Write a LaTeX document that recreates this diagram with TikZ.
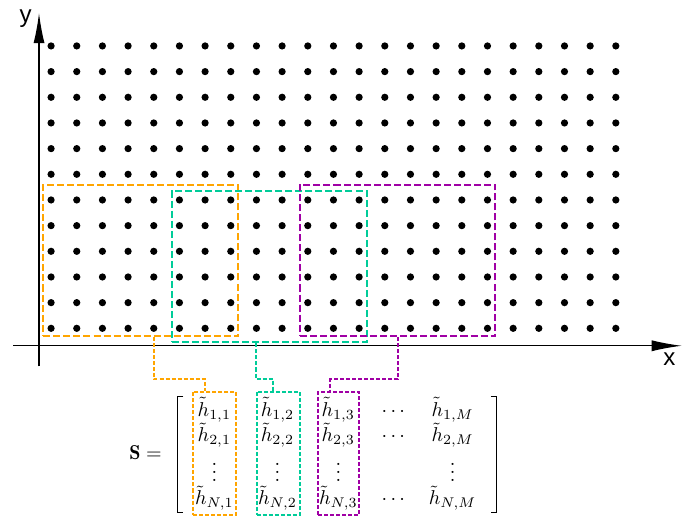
\documentclass[tikz,border=0pt]{standalone}
\usepackage{amsmath,amssymb}
\usepackage{xcolor}
\usepackage{fontspec}
\usetikzlibrary{arrows.meta,fit}
\newfontfamily\axisfont{Liberation Sans}
\definecolor{winorange}{RGB}{255,165,0}
\definecolor{winteal}{RGB}{0,204,153}
\definecolor{winpurple}{RGB}{160,0,165}
\tikzset{
  window/.style={line width=1pt, dash pattern=on 3.5pt off 1.5pt, inner sep=0pt},
  thinlink/.style={line width=1pt, dash pattern=on 2pt off 1pt},
  colbox/.style={thinlink, inner sep=0pt},
  axis/.style={line width=0.6pt, -{Latex[length=15pt,width=5.5pt]}},
  entry/.style={anchor=base, inner sep=0pt, text height=7pt, text depth=3pt},
}

\begin{document}
\begin{tikzpicture}[x=0.45cm,y=0.45cm]
    \useasboundingbox (-1.99,-7.39) rectangle (25.24,12.79);

    % Grid of sample points
    \foreach \i in {0,...,22}
        \foreach \j in {0,...,11}
            \fill (\i,\j) circle (1.8pt);

    % Axes
    \draw[axis] (-1.48,-0.68) -- (24.57,-0.68);
    \draw[axis] (-0.47,-1.48) -- (-0.47,12.28);
    \node[font=\axisfont\fontsize{12}{14}\selectfont] (xlab) at (24.09,-1.22) {x};
    \node[font=\axisfont\fontsize{12}{14}\selectfont] (ylab) at (-0.99,12.05) {y};

    % Sliding windows on the grid
    \node[window, draw=winorange, fit={(-0.3,-0.3) (7.3,5.6)}] (winA) {};
    \node[window, draw=winteal, fit={(4.7,-0.55) (12.3,5.35)}] (winB) {};
    \node[window, draw=winpurple, fit={(9.7,-0.3) (17.3,5.6)}] (winC) {};

    % Matrix S
    \node[entry] (S) at (3.68,-5.12) {$\mathbf{S} =$};
    \draw[line width=0.45pt] (5.15,-2.66) -- (4.92,-2.66) -- (4.92,-7.18) -- (5.15,-7.18);
    \draw[line width=0.45pt] (17.13,-2.66) -- (17.36,-2.66) -- (17.36,-7.18) -- (17.13,-7.18);

    \node[entry] (h11) at (6.36,-3.42) {$\tilde{h}_{1,1}$};
    \node[entry] (h21) at (6.36,-4.42) {$\tilde{h}_{2,1}$};
    \node[entry] (v1)  at (6.36,-5.97) {$\vdots$};
    \node[entry] (hN1) at (6.36,-6.88) {$\tilde{h}_{N,1}$};

    \node[entry] (h12) at (8.82,-3.42) {$\tilde{h}_{1,2}$};
    \node[entry] (h22) at (8.82,-4.42) {$\tilde{h}_{2,2}$};
    \node[entry] (v2)  at (8.82,-5.97) {$\vdots$};
    \node[entry] (hN2) at (8.82,-6.88) {$\tilde{h}_{N,2}$};

    \node[entry] (h13) at (11.19,-3.42) {$\tilde{h}_{1,3}$};
    \node[entry] (h23) at (11.19,-4.42) {$\tilde{h}_{2,3}$};
    \node[entry] (v3)  at (11.19,-5.97) {$\vdots$};
    \node[entry] (hN3) at (11.19,-6.88) {$\tilde{h}_{N,3}$};

    \node[entry] (d1) at (13.40,-3.42) {$\cdots$};
    \node[entry] (d2) at (13.40,-4.42) {$\cdots$};
    \node[entry] (dN) at (13.40,-6.88) {$\cdots$};

    \node[entry] (h1M) at (15.64,-3.42) {$\tilde{h}_{1,M}$};
    \node[entry] (h2M) at (15.64,-4.42) {$\tilde{h}_{2,M}$};
    \node[entry] (vM)  at (15.64,-5.97) {$\vdots$};
    \node[entry] (hNM) at (15.64,-6.88) {$\tilde{h}_{N,M}$};

    % Columns picked out of S
    \node[colbox, draw=winorange, fit={(5.52,-2.47) (7.21,-7.27)}] (colA) {};
    \node[colbox, draw=winteal, fit={(8.01,-2.47) (9.70,-7.27)}] (colB) {};
    \node[colbox, draw=winpurple, fit={(10.41,-2.47) (12.01,-7.27)}] (colC) {};

    % Links from the windows to the columns
    \coordinate (bend) at (0,-1.99);
    \coordinate (tapA) at ([xshift=0.225cm]winA.south);
    \coordinate (tapB) at ([xshift=-0.225cm]winB.south);
    \coordinate (tapC) at (winC.south);
    \coordinate (endA) at ([xshift=0.234cm]colA.north west);
    \coordinate (endB) at ([xshift=0.31cm]colB.north west);
    \coordinate (endC) at ([xshift=0.22cm]colC.north west);
    \draw[thinlink, winorange] (tapA) -- (tapA |- bend) -- (endA |- bend) -- (endA);
    \draw[thinlink, winteal] (tapB) -- (tapB |- bend) -- (endB |- bend) -- (endB);
    \draw[thinlink, winpurple] (tapC) -- (tapC |- bend) -- (endC |- bend) -- (endC);

\end{tikzpicture}
\end{document}
